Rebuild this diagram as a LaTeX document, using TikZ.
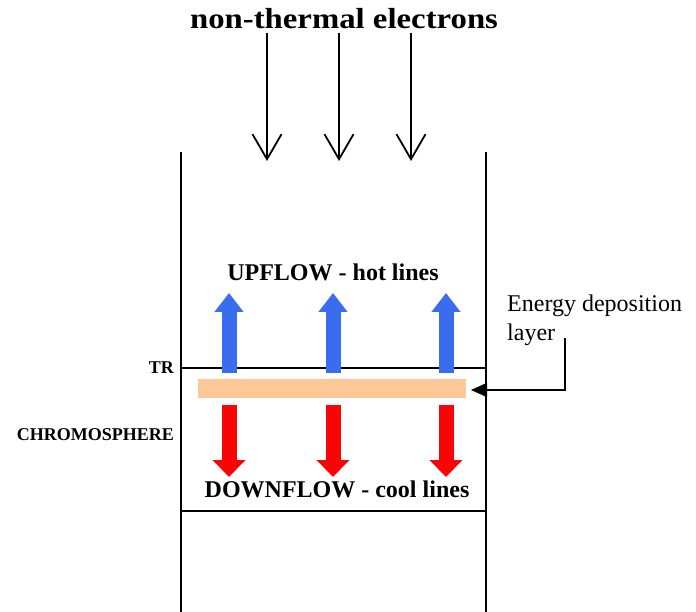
\documentclass[tikz,border=0pt]{standalone}
\usepackage{fontspec}
\setmainfont{Liberation Serif}
\usetikzlibrary{arrows.meta}
\definecolor{upblue}{HTML}{3A6CF0}
\definecolor{downred}{HTML}{FA0505}
\definecolor{layerorange}{HTML}{FBC997}
\tikzset{
  frame/.style={line width=2.6pt,black},
  ebeam/.style={line width=1.8pt,-{Straight Barb[length=25pt,width=29pt,line width=1.8pt]}},
  upflow/.style={line width=15pt,upblue,-{Triangle[length=19pt,width=28pt]}},
  downflow/.style={line width=15pt,downred,-{Triangle[length=17pt,width=32pt]}},
  lbl/.style={inner sep=0pt,anchor=base},
}
\begin{document}
\begin{tikzpicture}[x=1pt,y=-1pt]
\useasboundingbox (0,0) rectangle (696,612);
% title
\node[lbl] (title) at (344,29) {\scalebox{1.13}[1]{\fontsize{29}{32}\selectfont\bfseries non-thermal electrons}};
% electron arrows
\foreach \i/\x in {1/267,2/339,3/411}{
  \coordinate (e\i a) at (\x,33);
  \coordinate (e\i b) at (\x,161);
  \draw[ebeam] (e\i a) -- (e\i b);
}
% frame
\coordinate (lt) at (181,152); \coordinate (lb) at (181,612);
\coordinate (rt) at (486,152); \coordinate (rb) at (486,612);
\coordinate (trl) at (181,368); \coordinate (trr) at (486,368);
\coordinate (bl) at (181,511); \coordinate (br) at (486,511);
\draw[frame] (lt) -- (lb);
\draw[frame] (rt) -- (rb);
\draw[frame] (trl) -- (trr);
\draw[frame] (bl) -- (br);
% deposition layer
\node[fill=layerorange,minimum width=268pt,minimum height=19pt,inner sep=0pt] (layer) at (332,388.5) {};
% flows
\foreach \i/\x in {1/229,2/333,3/446}{
  \coordinate (u\i a) at (\x,373);
  \coordinate (u\i b) at (\x,293);
  \draw[upflow] (u\i a) -- (u\i b);
  \coordinate (d\i a) at (\x,405);
  \coordinate (d\i b) at (\x,477);
  \draw[downflow] (d\i a) -- (d\i b);
}
% labels
\node[lbl] (up) at (333,281) {\fontsize{24}{28}\selectfont\bfseries UPFLOW - hot lines};
\node[lbl] (down) at (337,497) {\fontsize{24}{28}\selectfont\bfseries DOWNFLOW - cool lines};
\node[lbl,anchor=base east] (tr) at (174,373) {\fontsize{18}{20}\selectfont\bfseries TR};
\node[lbl,anchor=base east] (chromo) at (174,440) {\fontsize{18}{20}\selectfont\bfseries CHROMOSPHERE};
\node[lbl,anchor=base west] (edl1) at (507,312) {\fontsize{24}{28}\selectfont Energy deposition};
\node[lbl,anchor=base west] (edl2) at (507,340) {\fontsize{24}{28}\selectfont layer};
% pointer
\coordinate (p1) at (565,338);
\coordinate (p2) at (565,390);
\coordinate (p3) at (471,390);
\draw[line width=1.5pt,-{Triangle[length=16pt,width=14pt]}] (p1) -- (p2) -- (p3);
\end{tikzpicture}
\end{document}
